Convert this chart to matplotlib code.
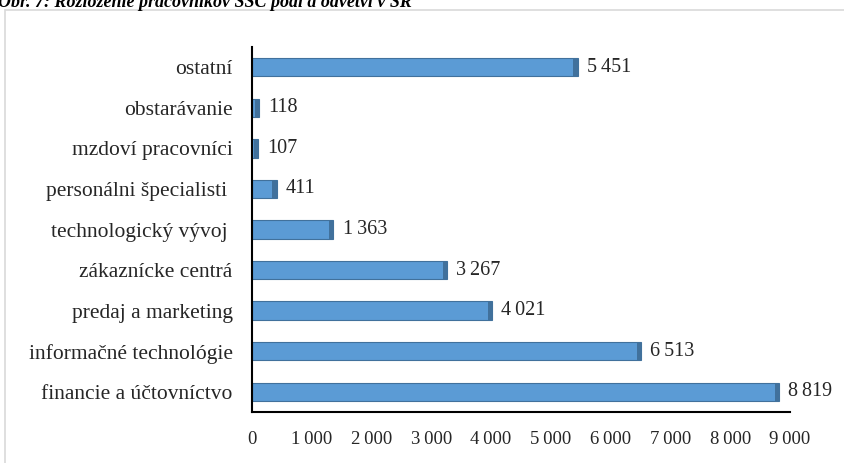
import numpy as np
import matplotlib
matplotlib.use("Agg")
import matplotlib.pyplot as plt
from matplotlib.patches import Rectangle

# data (bottom to top)
categories = ["financie a účtovníctvo", "informačné technológie", "predaj a marketing",
              "zákaznícke centrá", "technologický vývoj ", "personálni špecialisti ",
              "mzdoví pracovníci", "obstarávanie", "ostatní"]
values = [8819, 6513, 4021, 3267, 1363, 411, 107, 118, 5451]
xticks = [0, 1000, 2000, 3000, 4000, 5000, 6000, 7000, 8000, 9000]

def fmt(v):
    return f"{v:,}".replace(",", "\u2009")

plt.rcParams['font.family'] = ['Liberation Serif', 'DejaVu Serif']

fig = plt.figure(figsize=(8.45, 4.63), dpi=100)

# light frame around the chart area (runs off the right and bottom)
fig.patches.append(Rectangle((5 / 845, -0.05), 1.0, 1 - 10 / 463 + 0.05,
                             transform=fig.transFigure, fill=False,
                             edgecolor='#d9d9d9', linewidth=1.2))

# caption, cut by the top edge as in the source image
fig.text(-0.002, 1 - 7 / 463, "Obr. 7: Rozloženie pracovníkov SSC podľa odvetví v SR",
         fontsize=13, fontweight='bold', style='italic', va='baseline', ha='left')

ax = fig.add_axes([252 / 845, 51 / 463, 538 / 845, 365 / 463])
y = np.arange(len(categories))
ax.barh(y, values, height=0.45, color='#5b9bd5', edgecolor='#41719c', linewidth=0.8)

# darker end face for a bit of the 3D look
side = 75
ax.barh(y, [side] * len(values), left=[v - side for v in values],
        height=0.45, color='#41719c', linewidth=0)

for yi, v in zip(y, values):
    ax.annotate(fmt(v), (v, yi), xytext=(6.5, 0), textcoords='offset points',
                va='center', ha='left', fontsize=14.5, color='#262626')

ax.set_xlim(0, 9000)
ax.set_ylim(-0.5, len(categories) - 0.5)
ax.set_yticks(y)
ax.set_yticklabels(categories, fontsize=15.5, color='#262626')
ax.set_xticks(xticks)
ax.set_xticklabels([fmt(t) for t in xticks], fontsize=13.5, color='#262626')
ax.tick_params(axis='y', length=0, pad=14)
ax.tick_params(axis='x', length=0, pad=14)

for s in ['top', 'right']:
    ax.spines[s].set_visible(False)
for s in ['left', 'bottom']:
    ax.spines[s].set_linewidth(1.5)
    ax.spines[s].set_color('black')

fig.savefig("out.png", dpi=100)
